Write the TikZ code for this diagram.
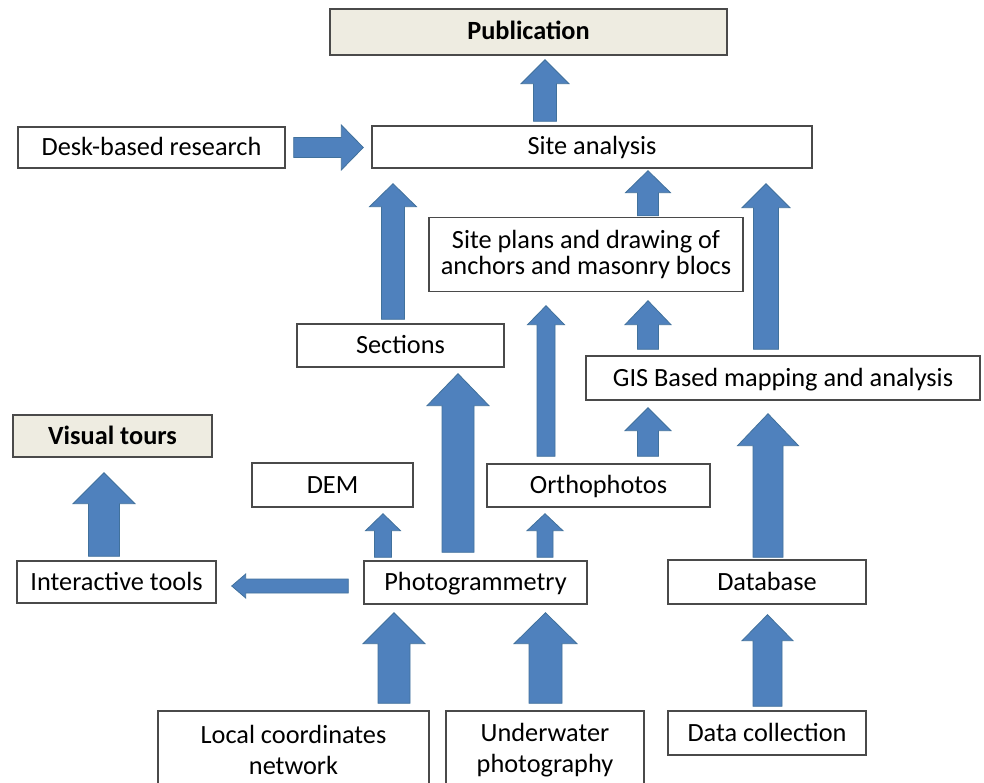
\documentclass[tikz,border=0pt]{standalone}
\usepackage{fontspec}
\setmainfont{Carlito}
\usepackage{tikz}
\usetikzlibrary{calc}
\usepackage{xcolor}

\definecolor{arrowblue}{HTML}{4F81BD}
\definecolor{arrowedge}{HTML}{41719C}
\definecolor{boxedge}{HTML}{4A4A4A}
\definecolor{boxbeige}{HTML}{EEECE1}

\tikzset{
  box/.style={draw=boxedge, line width=1.4pt, fill=white, inner sep=0pt,
              align=center, text height=20pt, text depth=4pt,
              font=\fontsize{26.3}{26}\selectfont},
  headbox/.style={box, fill=boxbeige, font=\fontsize{26.3}{26}\selectfont\bfseries},
  twoline/.style={text height={}, text depth={}},
  wideline/.style={twoline, font=\fontsize{26.3}{31}\selectfont},
  arrowbody/.style={fill=arrowblue, draw=arrowedge, line width=0.8pt, line join=miter},
}

% block arrow: #1 base, #2 tip, #3 half shaft, #4 half head, #5 head length
\newcommand{\flowarrow}[5]{
  \coordinate (fa) at #1;
  \coordinate (fb) at #2;
  \coordinate (fh) at ($(fb)!#5pt!(fa)$);
  \filldraw[arrowbody] ($(fa)!#3pt!90:(fb)$) -- ($(fh)!#3pt!-90:(fa)$)
    -- ($(fh)!#4pt!-90:(fa)$) -- (fb) -- ($(fh)!#4pt!90:(fa)$)
    -- ($(fh)!#3pt!90:(fa)$) -- ($(fa)!#3pt!-90:(fb)$) -- cycle;
}

\begin{document}
\begin{tikzpicture}[x=1pt, y=-1pt]
  \useasboundingbox (0,0) rectangle (984,783);
  \clip (0,0) rectangle (984,783);
  \fill[white] (0,0) rectangle (984,783);

  % boxes
  \node[headbox, minimum width=397pt, minimum height=46pt] (pub) at (528.5,32) {Publication};
  \node[box, minimum width=440pt, minimum height=42pt] (site) at (592,147) {Site analysis};
  \node[box, minimum width=267pt, minimum height=41pt] (desk) at (151.5,147.5) {Desk-based research};
  \node[box, twoline, minimum width=314pt, minimum height=74pt] (plans) at (586,254.5)
    {Site plans and drawing of\\anchors and masonry blocs};
  \node[box, minimum width=207pt, minimum height=43pt] (sect) at (400.5,345.5) {Sections};
  \node[box, minimum width=394pt, minimum height=44pt] (gis) at (783,378) {GIS Based mapping and analysis};
  \node[headbox, minimum width=199pt, minimum height=42pt] (vis) at (112.5,436) {Visual tours};
  \node[box, minimum width=161pt, minimum height=44pt] (dem) at (332.5,485) {DEM};
  \node[box, minimum width=223pt, minimum height=43pt] (ortho) at (598.5,485.5) {Orthophotos};
  \node[box, minimum width=199pt, minimum height=42pt] (inter) at (116.5,582) {Interactive tools};
  \node[box, minimum width=223pt, minimum height=43pt] (photo) at (475.5,582.5) {Photogrammetry};
  \node[box, minimum width=198pt, minimum height=44pt] (db) at (767,582) {Database};
  \node[box, wideline, minimum width=271pt, minimum height=78pt] (local) at (293.5,750)
    {Local coordinates\\network};
  \node[box, wideline, minimum width=198pt, minimum height=78pt] (under) at (545,750)
    {Underwater\\photography};
  \node[box, minimum width=198pt, minimum height=44pt] (data) at (767,733) {Data collection};

  % upper part
  \flowarrow{($(site.north)+(-47,-4)$)}{($(site.north |- pub.south)+(-47,4)$)}{11.5}{24}{24}
  \flowarrow{($(desk.east)+(8,0)$)}{($(desk.east -| site.west)+(-8,0)$)}{10}{22.5}{22}
  \flowarrow{($(sect.north)+(-7.5,-4)$)}{($(sect.north |- site.south)+(-7.5,15)$)}{11.5}{23.5}{23}
  \flowarrow{($(plans.north)+(62,-1)$)}{($(plans.north |- site.south)+(62,2)$)}{10.5}{22.5}{22}
  \flowarrow{($(gis.north)+(-17,-6)$)}{($(gis.north |- site.south)+(-17,15)$)}{12.5}{24}{24}
  \flowarrow{($(ortho.north)+(-52.5,-7)$)}{($(ortho.north |- plans.south)+(-52.5,13.5)$)}{9}{18.5}{19}
  \flowarrow{($(gis.north)+(-135,-6)$)}{($(gis.north |- plans.south)+(-135,8.5)$)}{10.5}{23}{24}

  % middle part
  \flowarrow{($(photo.north)+(-17.5,-8)$)}{($(photo.north |- sect.south)+(-17.5,6)$)}{16}{31}{32}
  \flowarrow{($(ortho.north)+(49.5,-7)$)}{($(ortho.north |- gis.south)+(49.5,7)$)}{10.5}{23}{23}
  \flowarrow{($(db.north)+(1,-2)$)}{($(db.north |- gis.south)+(1,13)$)}{15}{30.5}{32}
  \flowarrow{($(photo.north)+(-92.5,-3)$)}{($(photo.north |- dem.south)+(-92.5,6)$)}{8.5}{17.5}{17}
  \flowarrow{($(photo.north)+(69.5,-3)$)}{($(photo.north |- ortho.south)+(69.5,6)$)}{8}{18}{17}
  \flowarrow{($(inter.north)+(-12.5,-4)$)}{($(inter.north |- vis.south)+(-12.5,15)$)}{15.5}{31}{31}
  \flowarrow{($(photo.west)+(-15,3.5)$)}{($(photo.west -| inter.east)+(15,3.5)$)}{7}{12}{14}

  % inputs at the bottom
  \flowarrow{($(local.north)+(100.5,-7)$)}{($(local.north |- photo.south)+(100.5,8)$)}{16}{31}{31}
  \flowarrow{($(under.north)+(0.5,-7)$)}{($(under.north |- photo.south)+(0.5,8)$)}{16.5}{31.5}{31}
  \flowarrow{($(data.north)+(0.5,-4)$)}{($(data.north |- db.south)+(0.5,10)$)}{14.5}{25.5}{26}
\end{tikzpicture}
\end{document}
